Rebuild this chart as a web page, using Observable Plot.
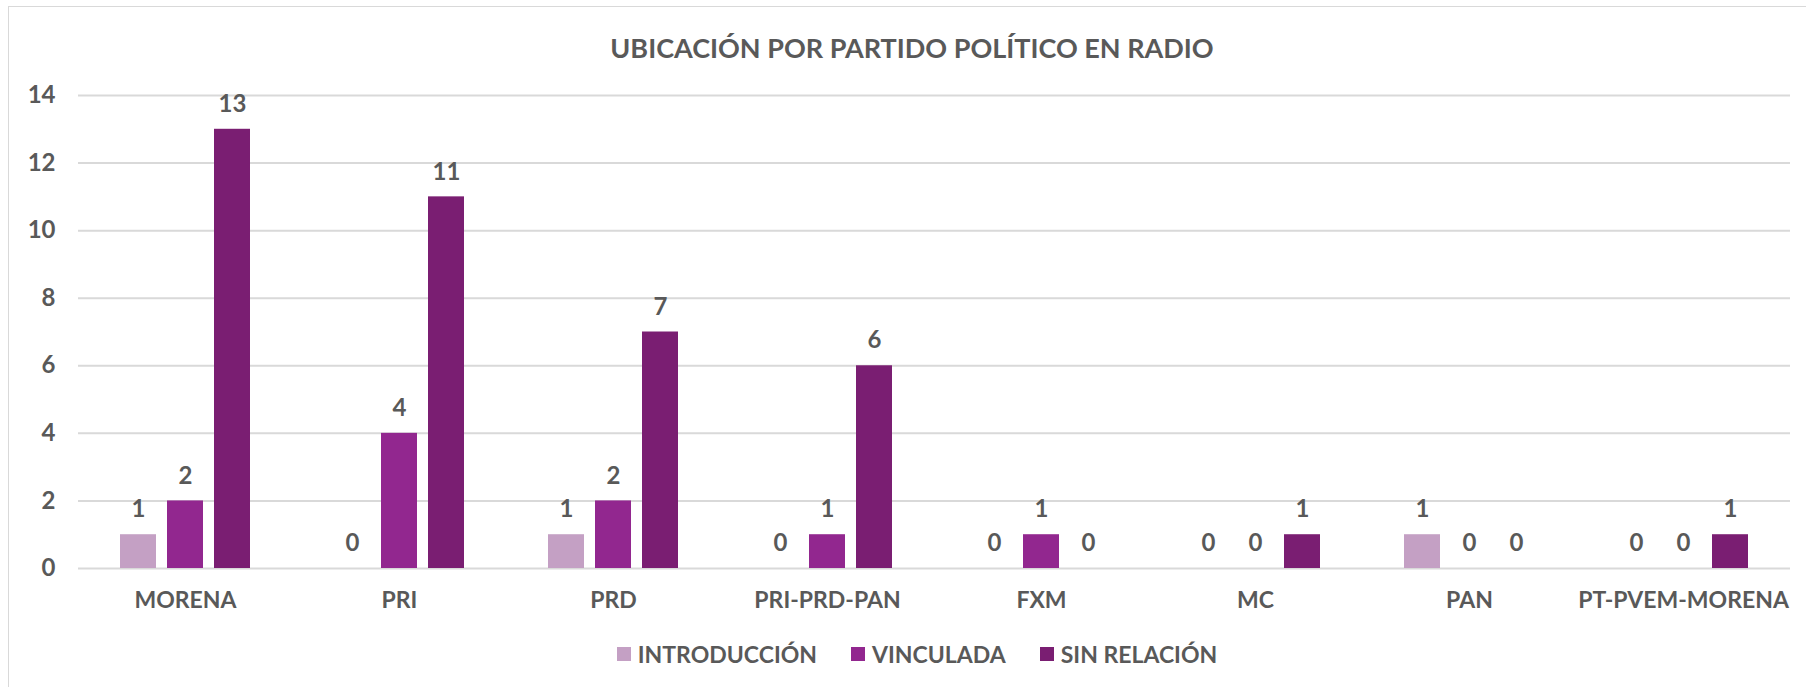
<!DOCTYPE html>
<html>
<head>
<meta charset="utf-8">
<script src="https://cdn.jsdelivr.net/npm/d3@7"></script>
<script src="https://cdn.jsdelivr.net/npm/@observablehq/plot@0.6"></script>
<style>
  body { margin: 0; background: #fff; }
  #wrap { position: relative; width: 1806px; height: 687px; overflow: hidden; font-family: Lato, "Open Sans", sans-serif; color: #595959; background:#fff; }
  #frame { position: absolute; left: 8px; top: 6px; width: 1820px; height: 700px; border: 1.5px solid #d9d9d9; box-sizing: border-box; }
  #title { position: absolute; left: 0; top: 32px; width: 1824px; text-align: center; font-size: 27px; font-weight: 700; line-height: 32px; white-space: nowrap; }
  #chart { position: absolute; left: 0; top: 70px; }
  #legend { position: absolute; left: 0; top: 640px; width: 1834px; display: flex; justify-content: center; align-items: center; font-size: 23px; font-weight: 700; line-height: 28px; }
  .item { display: flex; align-items: center; margin: 0 17px; }
  .sw { width: 14px; height: 14px; margin-right: 7px; }
</style>
</head>
<body>
<div id="wrap">
  <div id="frame"></div>
  <div id="title">UBICACIÓN POR PARTIDO POLÍTICO EN RADIO</div>
  <div id="chart"></div>
  <div id="legend"></div>
</div>
<script>
const categories = ["MORENA", "PRI", "PRD", "PRI-PRD-PAN", "FXM", "MC", "PAN", "PT-PVEM-MORENA"];
const seriesNames = ["INTRODUCCIÓN", "VINCULADA", "SIN RELACIÓN"];
const introduccion = [1, 0, 1, 0, 0, 0, 1, 0];
const vinculada = [2, 4, 2, 1, 1, 0, 0, 0];
const sinRelacion = [13, 11, 7, 6, 0, 1, 0, 1];
const seriesColors = ["#C4A0C4", "#92278F", "#7A1E72"];
const yTicks = [0, 2, 4, 6, 8, 10, 12, 14];

const seriesValues = [introduccion, vinculada, sinRelacion];
const rows = [];
categories.forEach((c, i) => {
  seriesNames.forEach((s, j) => rows.push({category: c, series: s, value: seriesValues[j][i]}));
});
const barRows = rows.filter(d => d.value > 0);

const textColor = "#595959";
const plot = Plot.plot({
  width: 1806,
  height: 548,
  marginLeft: 75,
  marginRight: 14,
  marginTop: 25,
  marginBottom: 50,
  style: {fontFamily: 'Lato, "Open Sans", sans-serif', fontWeight: 700, color: textColor, background: "transparent", overflow: "visible"},
  fx: {domain: categories, padding: 0, axis: null, label: null},
  x: {domain: seriesNames, paddingInner: 0.23, paddingOuter: 0.85, axis: null},
  y: {domain: [0, 14], ticks: yTicks, label: null, axis: null},
  color: {domain: seriesNames, range: seriesColors},
  marks: [
    Plot.ruleY(yTicks, {stroke: "#d9d9d9", strokeWidth: 2}),
    Plot.barY(barRows, {fx: "category", x: "series", y: "value", fill: "series"}),
    Plot.text(rows, {fx: "category", x: "series", y: "value", text: d => String(d.value), dy: -25, fill: textColor, fontSize: 24, fontWeight: 700}),
    Plot.axisY({ticks: yTicks, tickSize: 0, tickPadding: 23, fontSize: 24, fontWeight: 700, label: null}),
    Plot.axisFx({anchor: "bottom", tickSize: 0, tickPadding: 23, fontSize: 23, fontWeight: 700, label: null})
  ]
});
document.getElementById("chart").appendChild(plot);

const legend = document.getElementById("legend");
seriesNames.forEach((s, i) => {
  const item = document.createElement("div");
  item.className = "item";
  const sw = document.createElement("div");
  sw.className = "sw";
  sw.style.background = seriesColors[i];
  const lab = document.createElement("span");
  lab.textContent = s;
  item.appendChild(sw);
  item.appendChild(lab);
  legend.appendChild(item);
});
</script>
</body>
</html>
